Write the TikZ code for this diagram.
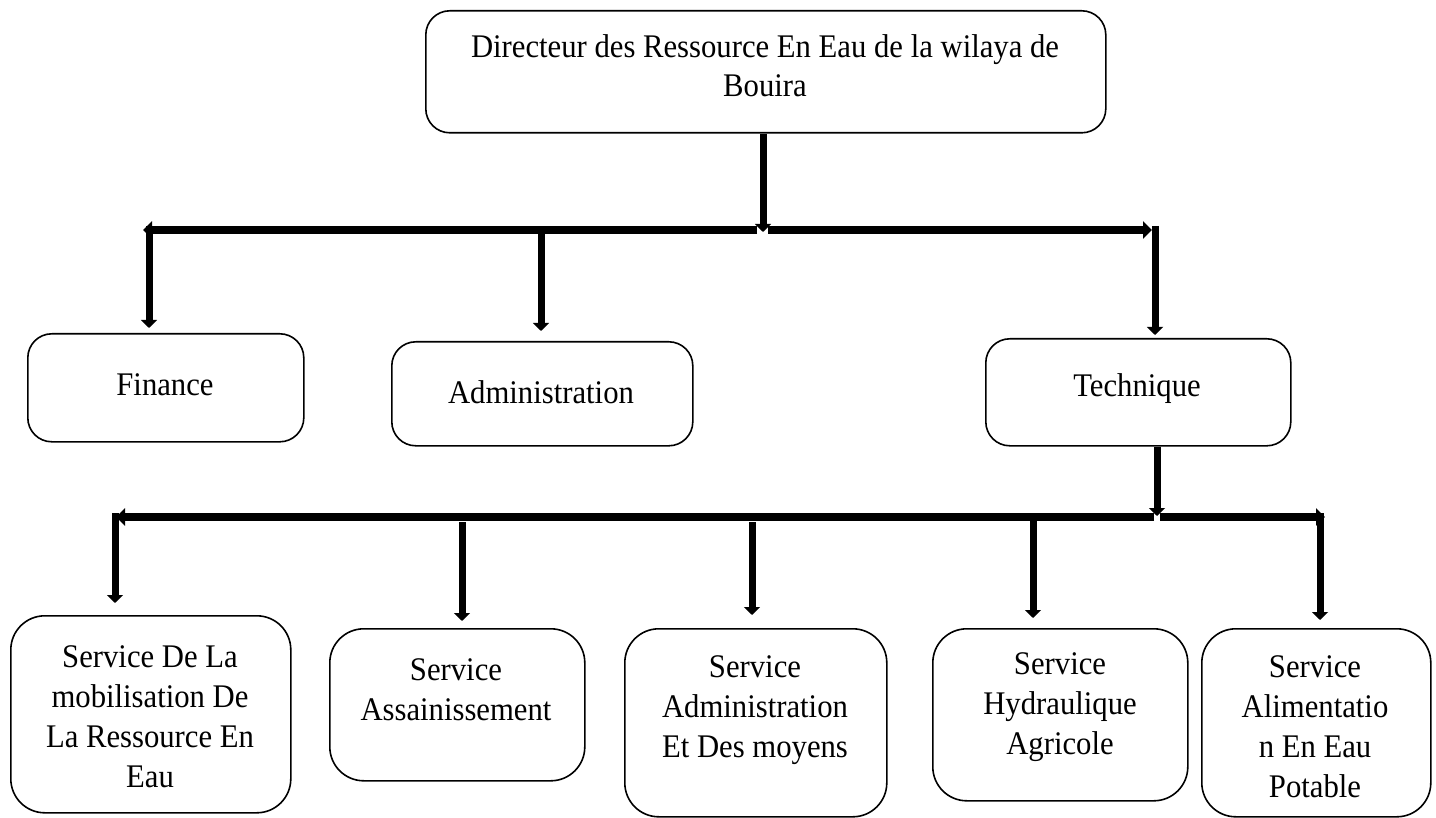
\documentclass[tikz,border=0pt]{standalone}
\usepackage{fontspec}
\setmainfont{Liberation Serif}[FakeStretch=0.93]
\usetikzlibrary{arrows.meta}
\begin{document}
\begin{tikzpicture}[x=1pt,y=-1pt,
  box/.style={draw, line width=1.6pt, rounded corners=24pt, anchor=north west, inner sep=0pt},
  bigbox/.style={box, rounded corners=34pt},
  lbl/.style={anchor=north, inner sep=0pt, align=center, font=\fontsize{33}{40}\selectfont},
  conn/.style={line width=7pt, -{Triangle[width=16pt,length=8pt]}},
  hconn/.style={line width=8pt, -{Triangle[width=17pt,length=9pt]}}]
\useasboundingbox (0,0) rectangle (1436,818);

% boxes
\node[box, minimum width=680pt, minimum height=122pt] (dir) at (425,10) {};
\node[box, minimum width=276pt, minimum height=108pt] (fin) at (27,333) {};
\node[box, minimum width=301pt, minimum height=104pt] (adm) at (391,341) {};
\node[box, minimum width=305pt, minimum height=107pt] (tec) at (985,338) {};
\node[bigbox, minimum width=280pt, minimum height=197pt] (s1) at (10,615) {};
\node[bigbox, minimum width=255pt, minimum height=152pt] (s2) at (329,628) {};
\node[bigbox, minimum width=262pt, minimum height=188pt] (s3) at (624,628) {};
\node[bigbox, minimum width=255pt, minimum height=172pt] (s4) at (932,628) {};
\node[bigbox, minimum width=229pt, minimum height=188pt] (s5) at (1201,628) {};

% texts
\node[lbl, font=\fontsize{33}{39}\selectfont] (tdir) at (765,34) {Directeur des Ressource En Eau de la wilaya de\\Bouira};
\node[lbl] (tfin) at (165,373) {Finance};
\node[lbl] (tadm) at (541,380) {Administration};
\node[lbl] (ttec) at (1137,373) {Technique};
\node[lbl] (ts1) at (150,645) {Service De La\\mobilisation De\\La Ressource En\\Eau};
\node[lbl] (ts2) at (456,658) {Service\\Assainissement};
\node[lbl] (ts3) at (755,655) {Service\\Administration\\Et Des moyens};
\node[lbl] (ts4) at (1060,652) {Service\\Hydraulique\\Agricole};
\node[lbl] (ts5) at (1315,655) {Service\\Alimentatio\\n En Eau\\Potable};

% junction coordinates, upper level
\coordinate (jT) at (763,232);
\coordinate (jTL) at (757,230);
\coordinate (jTR) at (768,230);
\coordinate (xF) at (143,230);
\coordinate (vF) at (149,226);
\coordinate (vA) at (541,231);
\coordinate (xT) at (1152,230);
\coordinate (vT) at (1155,226);

\draw[conn] (dir.south -| jT) -- (jT);
\draw[hconn] (jTL) -- (xF);
\draw[conn, shorten >=5pt] (vF) -- (vF |- fin.north);
\draw[conn, shorten >=10pt] (vA) -- (vA |- adm.north);
\draw[hconn] (jTR) -- (xT);
\draw[conn, shorten >=3pt] (vT) -- (vT |- tec.north);

% junction coordinates, lower level
\coordinate (jB) at (1157,516);
\coordinate (jBL) at (1154,517);
\coordinate (jBR) at (1160,517);
\coordinate (x1) at (116,517);
\coordinate (v1) at (115,513);
\coordinate (v2) at (462,522);
\coordinate (v3) at (752,522);
\coordinate (v4) at (1033,520);
\coordinate (x5) at (1325,517);
\coordinate (v5) at (1320,513);

\draw[conn] (tec.south -| jB) -- (jB);
\draw[hconn] (jBL) -- (x1);
\draw[hconn] (jBR) -- (x5);
\draw[conn, shorten >=12pt] (v1) -- (v1 |- s1.north);
\draw[conn, shorten >=7pt] (v2) -- (v2 |- s2.north);
\draw[conn, shorten >=13pt] (v3) -- (v3 |- s3.north);
\draw[conn, shorten >=10pt] (v4) -- (v4 |- s4.north);
\draw[conn, shorten >=8pt] (v5) -- (v5 |- s5.north);
\end{tikzpicture}
\end{document}
